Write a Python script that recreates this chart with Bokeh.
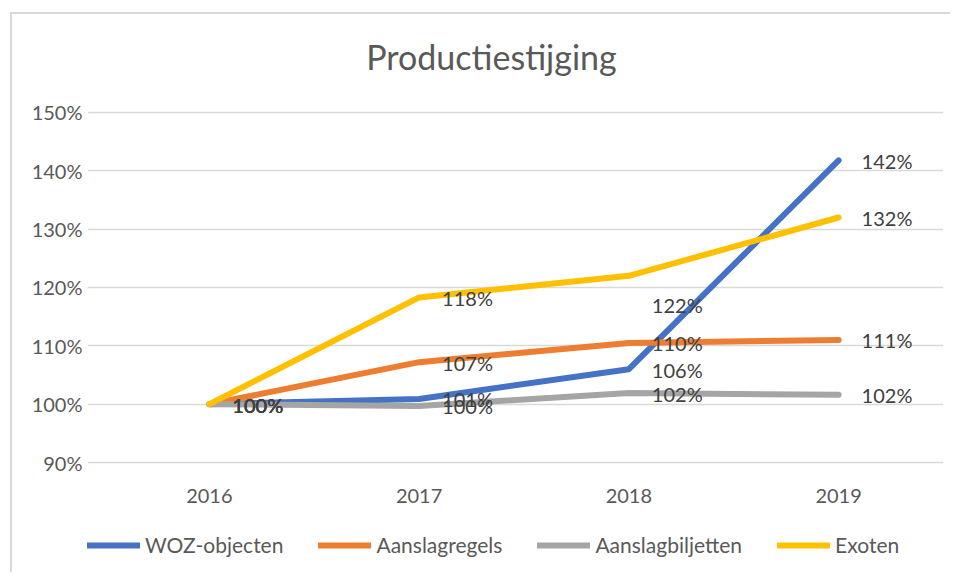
from bokeh.plotting import figure
from bokeh.models import (Range1d, FixedTicker, Legend, LegendItem, Label,
                          NumeralTickFormatter)
from bokeh.core.properties import value
from bokeh.embed import file_html
from bokeh.resources import INLINE

years = ["2016", "2017", "2018", "2019"]
series_names = ["WOZ-objecten", "Aanslagregels", "Aanslagbiljetten", "Exoten"]
woz = [1.000, 1.009, 1.060, 1.418]
aanslagregels = [1.000, 1.072, 1.105, 1.110]
aanslagbiljetten = [1.000, 0.997, 1.019, 1.016]
exoten = [1.000, 1.183, 1.220, 1.320]
y_ticks = [0.9, 1.0, 1.1, 1.2, 1.3, 1.4, 1.5]
chart_title = "Productiestijging"

colors = ["#4472C4", "#ED7D31", "#A5A5A5", "#FFC000"]
all_values = [woz, aanslagregels, aanslagbiljetten, exoten]
# extra vertical label shift (px, downward positive) per series/point
label_shift = {(3, 2): 29}

FONT = "Lato"
xs = list(range(len(years)))
y_min, y_max = y_ticks[0], y_ticks[-1]

# frame extends above and below the gridlines to hold title and legend
p = figure(width=940, height=560, output_backend="svg", toolbar_location=None,
           x_range=Range1d(-0.581, len(years) - 0.5),
           y_range=Range1d(y_min - 0.18514, y_max + 0.13371),
           x_axis_location="above",
           min_border_left=75, min_border_right=9, min_border_top=20,
           min_border_bottom=4)
p.margin = (12, 0, 0, 10)
p.styles = {"border-left": "2px solid #d9d9d9", "border-top": "2px solid #d9d9d9"}
p.outline_line_color = None
p.background_fill_color = "white"
p.border_fill_color = "white"

p.xgrid.grid_line_color = None
p.ygrid.grid_line_color = "#d9d9d9"
p.ygrid.grid_line_width = 1.5
p.ygrid.bounds = (-0.5, len(years) - 0.5)
p.yaxis.ticker = FixedTicker(ticks=y_ticks)
p.yaxis.formatter = NumeralTickFormatter(format="0%")
p.xaxis.ticker = FixedTicker(ticks=xs)
p.xaxis.major_label_overrides = {i: y for i, y in enumerate(years)}
p.xaxis.fixed_location = y_min
for ax in (p.xaxis[0], p.yaxis[0]):
    ax.axis_line_color = None
    ax.major_tick_line_color = None
    ax.minor_tick_line_color = None
    ax.major_tick_out = 0
    ax.major_tick_in = 0
    ax.major_label_text_font = FONT
    ax.major_label_text_font_size = "20px"
    ax.major_label_text_color = "#595959"
p.yaxis.major_label_standoff = 5
p.xaxis.major_label_standoff = -40

items = []
for i, (name, vals, col) in enumerate(zip(series_names, all_values, colors)):
    r = p.line(xs, vals, line_color=col, line_width=6, line_cap="round",
               line_join="round")
    items.append(LegendItem(label=name, renderers=[r]))

for i, vals in enumerate(all_values):
    for j, v in enumerate(vals):
        txt = f"{round(v * 100):d}%"
        p.text(x=[xs[j]], y=[v], text=[txt], x_offset=23,
               y_offset=0.5 + label_shift.get((i, j), 0),
               text_align="left", text_baseline="middle",
               text_font=value(FONT), text_font_size="20px",
               text_color="#404040")

title = Label(x=1.345, y=1.596, text=chart_title, text_align="center",
              text_baseline="middle", text_font=FONT, text_font_size="34px",
              text_color="#595959")
p.add_layout(title)

legend = Legend(items=items, orientation="horizontal", location=(0, 13),
                glyph_width=53, glyph_height=20, label_height=20,
                label_standoff=5, spacing=35, padding=0, margin=0,
                border_line_color=None, background_fill_alpha=0,
                label_text_font=FONT, label_text_font_size="21px",
                label_text_color="#595959")
p.add_layout(legend, "center")

open("out.html", "w").write(file_html(p, INLINE))
